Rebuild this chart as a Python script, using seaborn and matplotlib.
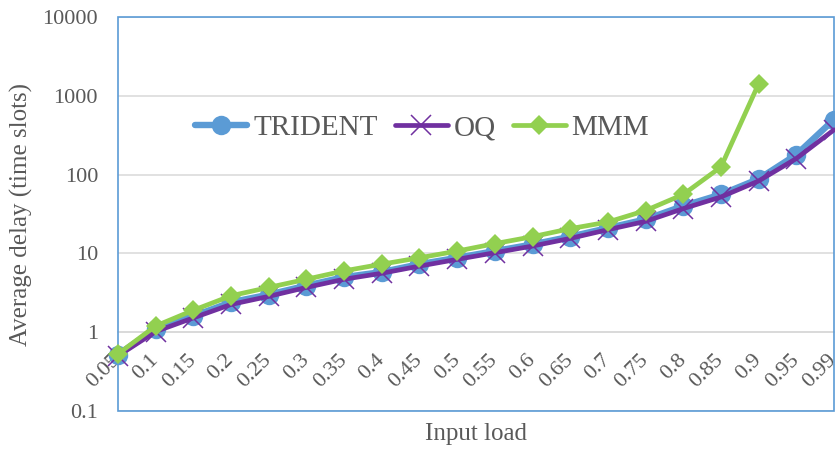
import numpy as np
import pandas as pd
import matplotlib
matplotlib.use("Agg")
import matplotlib.pyplot as plt
from matplotlib.patches import Rectangle
from matplotlib.ticker import NullLocator
import seaborn as sns

# Input load categories
loads = ["0.05", "0.1", "0.15", "0.2", "0.25", "0.3", "0.35", "0.4", "0.45", "0.5",
         "0.55", "0.6", "0.65", "0.7", "0.75", "0.8", "0.85", "0.9", "0.95", "0.99"]

# Average delay (time slots) per scheme
trident = [0.52, 1.1, 1.6, 2.4, 3.0, 3.9, 5.0, 5.8, 7.3, 8.8,
           10.7, 13.0, 16.3, 21.0, 27.0, 40.0, 56.0, 88.0, 179.0, 500.0]
oq = [0.5, 1.02, 1.52, 2.25, 2.85, 3.7, 4.7, 5.6, 6.9, 8.4,
      10.2, 12.4, 15.5, 20.0, 25.5, 37.0, 52.0, 83.0, 160.0, 370.0]
mmm = [0.53, 1.2, 1.9, 2.9, 3.7, 4.7, 6.0, 7.3, 8.8, 10.7,
       13.3, 16.3, 20.6, 25.0, 35.0, 56.0, 125.0, 1420.0]

y_ticks = [0.1, 1, 10, 100, 1000, 10000]
y_tick_labels = ["0.1", "1", "10", "100", "1000", "10000"]

sns.set_style("white")
plt.rcParams["font.family"] = ["Liberation Serif", "DejaVu Serif"]

TEXT = "#595959"
GRID = "#D9D9D9"
BORDER = "#5B9BD5"

W, H = 835, 449
fig = plt.figure(figsize=(W / 100, H / 100), dpi=100)
ax = fig.add_axes([118 / W, 1 - 411 / H, 716 / W, 394 / H])

pos = np.arange(len(loads))

series = [
    ("TRIDENT", trident, "#5B9BD5", 4.6, dict(marker="o", markersize=14,
                                               markeredgewidth=0, markeredgecolor="#5B9BD5")),
    ("OQ", oq, "#7030A0", 3.4, dict(marker="x", markersize=14,
                                    markeredgewidth=1.1, markeredgecolor="#7030A0")),
    ("MMM", mmm, "#92D050", 3.4, dict(marker="D", markersize=10,
                                      markeredgewidth=0, markeredgecolor="#92D050")),
]

for i, (name, vals, color, lw, mk) in enumerate(series):
    df = pd.DataFrame({"pos": pos[:len(vals)], "delay": vals})
    sns.lineplot(data=df, x="pos", y="delay", ax=ax, color=color, label=name,
                 linewidth=lw, errorbar=None, clip_on=False, zorder=4 + i,
                 solid_joinstyle="round", solid_capstyle="round", **mk)

ax.set_yscale("log")
ax.set_ylim(0.1, 10000)
ax.set_xlim(0, len(loads) - 1)
ax.set_yticks(y_ticks, y_tick_labels)
ax.yaxis.set_minor_locator(NullLocator())
ax.set_xticks(pos, loads)

ax.yaxis.grid(True, color=GRID, linewidth=1.1)
ax.xaxis.grid(False)
ax.set_axisbelow(True)

# Horizontal axis crosses the value axis at 1
for side in ["top", "right", "left"]:
    ax.spines[side].set_visible(False)
ax.spines["bottom"].set_position(("data", 1))
ax.spines["bottom"].set_color(GRID)
ax.spines["bottom"].set_linewidth(1.1)

# Plot-area border
ax.add_patch(Rectangle((0, 0), 1, 1, transform=ax.transAxes, fill=False,
                       edgecolor=BORDER, linewidth=1.2, clip_on=False, zorder=3))

ax.tick_params(axis="x", direction="inout", length=8.6, width=1.1, color=GRID,
               pad=13.5, labelsize=16, labelcolor=TEXT)
ax.tick_params(axis="y", length=0, pad=14.4, labelsize=16, labelcolor=TEXT)
for lab in ax.get_xticklabels():
    lab.set_rotation(45)
    lab.set_ha("right")
    lab.set_va("center")
    lab.set_rotation_mode("anchor")

ax.set_xlabel("Input load", fontsize=18, color=TEXT)
ax.xaxis.label.set_va("center")
ax.xaxis.set_label_coords(0.5, -0.0584)
ax.set_ylabel("Average delay (time slots)", fontsize=18, color=TEXT)
ax.yaxis.label.set_va("center")
ax.yaxis.set_label_coords(-0.1345, 0.5)

ax.legend(loc="center", bbox_to_anchor=(0.4246, 0.718), ncol=3, frameon=False,
          fontsize=21, handlelength=1.8, handletextpad=0.2, columnspacing=0.6,
          borderaxespad=0, labelcolor=TEXT)

fig.savefig("out.png", dpi=100, facecolor="white")
